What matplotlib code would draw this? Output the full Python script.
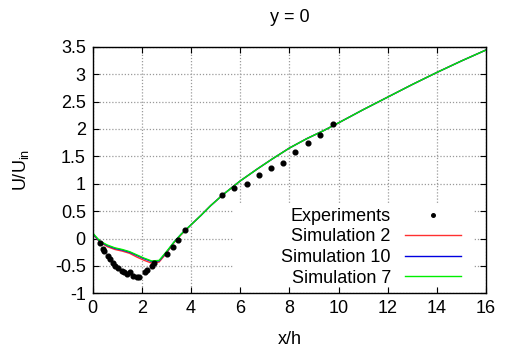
import matplotlib
matplotlib.use("Agg")
import matplotlib.pyplot as plt
from matplotlib.patches import Rectangle
import numpy as np

plt.rcParams['font.family'] = ['Liberation Sans', 'DejaVu Sans']
plt.rcParams['mathtext.fontset'] = 'custom'
plt.rcParams['mathtext.rm'] = 'Liberation Sans'

# Experimental data
exp_x = [0.30, 0.41, 0.47, 0.63, 0.70, 0.81, 0.91, 1.04, 1.18, 1.27, 1.38, 1.52, 1.65,
         1.79, 1.88, 2.13, 2.22, 2.40, 2.50, 3.01, 3.25, 3.48, 3.75,
         5.24, 5.76, 6.26, 6.76, 7.25, 7.75, 8.25, 8.75, 9.25, 9.76]
exp_y = [-0.08, -0.19, -0.22, -0.32, -0.38, -0.44, -0.50, -0.54, -0.59, -0.62, -0.65, -0.62, -0.68,
         -0.70, -0.70, -0.61, -0.57, -0.50, -0.45, -0.28, -0.15, -0.03, 0.15,
         0.80, 0.93, 0.99, 1.16, 1.28, 1.38, 1.57, 1.74, 1.89, 2.09]

# Simulations
sim_x = [0.0, 0.3, 0.6, 0.9, 1.2, 1.5, 1.8, 2.1, 2.4, 2.7, 3.0, 3.3, 3.6, 4.0, 4.4, 4.8,
         5.3, 6.0, 6.7, 7.3, 8.0, 8.7, 9.4, 10.0, 11.0, 12.0, 13.0, 14.0, 15.0, 16.0]
sim2_y = [0.08, -0.07, -0.15, -0.20, -0.23, -0.27, -0.34, -0.40, -0.45, -0.43, -0.27, -0.08, 0.07,
          0.25, 0.42, 0.60, 0.80, 1.05, 1.27, 1.45, 1.65, 1.82, 1.97, 2.11, 2.35, 2.58, 2.81, 3.03, 3.24, 3.44]
sim10_y = [0.09, -0.06, -0.13, -0.18, -0.21, -0.25, -0.31, -0.37, -0.42, -0.41, -0.25, -0.07, 0.08,
           0.25, 0.42, 0.60, 0.80, 1.05, 1.27, 1.45, 1.65, 1.82, 1.97, 2.11, 2.35, 2.58, 2.81, 3.03, 3.24, 3.44]
sim7_y = [0.10, -0.05, -0.12, -0.17, -0.20, -0.24, -0.30, -0.36, -0.41, -0.40, -0.24, -0.07, 0.08,
          0.25, 0.42, 0.60, 0.80, 1.05, 1.27, 1.45, 1.65, 1.82, 1.97, 2.11, 2.35, 2.58, 2.81, 3.03, 3.24, 3.44]

x_ticks = [0, 2, 4, 6, 8, 10, 12, 14, 16]
y_ticks = [-1, -0.5, 0, 0.5, 1, 1.5, 2, 2.5, 3, 3.5]
y_ticklabels = ['-1', '-0.5', '0', '0.5', '1', '1.5', '2', '2.5', '3', '3.5']

W, H = 507, 352
fig = plt.figure(figsize=(W / 100, H / 100), dpi=100)
ax = fig.add_axes([92.7 / W, 1 - 293.3 / H, (486 - 92.7) / W, (293.3 - 46.7) / H])

FS = 13

ax.set_xlim(0, 16)
ax.set_ylim(-1, 3.5)
ax.set_xticks(x_ticks)
ax.set_xticklabels([str(t) for t in x_ticks])
ax.set_yticks(y_ticks)
ax.set_yticklabels(y_ticklabels)
ax.tick_params(direction='in', length=4, width=0.8, top=True, right=True,
               labelsize=FS, pad=5)
ax.grid(True, color='#9a9a9a', linestyle=(0, (1, 1.5)), linewidth=0.9)
ax.set_axisbelow(True)
for s in ax.spines.values():
    s.set_linewidth(1.0)

# white legend box covering grid
rect = Rectangle((233 / W, 1 - 287 / H), (473 - 233) / W, (287 - 203) / H,
                 transform=fig.transFigure, facecolor='white', edgecolor='none', zorder=1)
ax.add_patch(rect)

ax.plot(exp_x, exp_y, 'o', color='black', markersize=3.4, label='Experiments', zorder=3)
ax.plot(sim_x, sim2_y, color='#ff3030', linewidth=1.0, label='Simulation 2', zorder=2)
ax.plot(sim_x, sim10_y, color='#0000e0', linewidth=1.0, label='Simulation 10', zorder=2)
ax.plot(sim_x, sim7_y, color='#00ee00', linewidth=1.0, label='Simulation 7', zorder=2)

leg = ax.legend(loc='upper right', bbox_to_anchor=(472 / W, 1 - 197 / H),
                bbox_transform=fig.transFigure, frameon=False, markerfirst=False,
                fontsize=FS, handlelength=3.1, handletextpad=0.8, labelspacing=0.2,
                borderpad=0.1, markerscale=0.75)

ax.set_title('y = 0', fontsize=FS, pad=18)
ax.set_xlabel('x/h', fontsize=FS, labelpad=10)
ax.set_ylabel(r'U/U$_\mathregular{in}$', fontsize=FS, labelpad=17)

fig.savefig('out.png', dpi=100)
